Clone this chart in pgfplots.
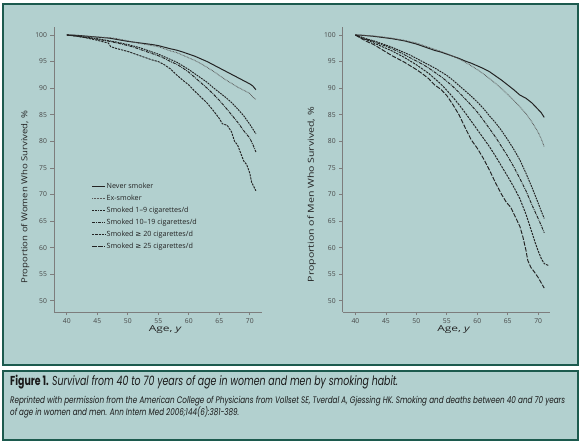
\documentclass[border=0pt]{standalone}
\usepackage{fontspec}
\setmainfont{Open Sans}
\newfontfamily\capfont{Poppins}
\newfontfamily\symfont{DejaVu Sans}
\usepackage{graphicx}
\usepackage{pgfplots}
\pgfplotsset{compat=1.18}
\definecolor{bgteal}{RGB}{178,208,207}
\definecolor{bordgreen}{RGB}{28,90,78}
\definecolor{axgray}{RGB}{125,125,125}
\definecolor{tickgray}{RGB}{70,70,70}
\definecolor{linedark}{RGB}{35,35,35}
\definecolor{exgray}{RGB}{90,90,90}
\tikzset{
  snever/.style={linedark, line width=1bp, solid},
  sex/.style={exgray, line width=0.85bp, dash pattern=on 0.7bp off 0.8bp},
  sone/.style={linedark, line width=0.95bp, dash pattern=on 1.8bp off 0.9bp},
  sten/.style={linedark, line width=0.95bp, dash pattern=on 3bp off 1bp on 0.8bp off 1bp},
  stwenty/.style={linedark, line width=0.95bp, dash pattern=on 2.2bp off 1bp},
  stwfive/.style={linedark, line width=0.95bp, dash pattern=on 4.5bp off 1.5bp},
}
\pgfplotsset{
  panel/.style={
    scale only axis, height=285bp,
    xmin=37.9, xmax=72, ymin=47.9, ymax=101.5,
    axis x line=bottom, axis y line=left,
    axis line style={axgray, line width=0.9bp, -},
    xtick={40,45,...,70}, ytick={50,55,...,100},
    tick align=outside, major tick length=3.5bp,
    tick style={axgray, line width=0.8bp},
    ticklabel style={font=\fontsize{6.8}{7}\selectfont, text=tickgray},
    /pgf/number format/assume math mode=true,
    label style={font=\fontsize{8.3}{9}\selectfont, text=linedark},
    xlabel={\resizebox{33bp}{\height}{Age, \textit{y}}},
    xlabel style={at={(axis description cs:0.535,-0.063)}, anchor=center},
  }
}
\begin{document}
\begin{tikzpicture}
\path[use as bounding box] (0bp,0bp) rectangle (582bp,445bp);
\fill[white] (0bp,0bp) rectangle (582bp,445bp);
\draw[bordgreen, line width=1.5bp, fill=bgteal] (3bp,80bp) rectangle (578bp,441bp);
\draw[bordgreen, line width=1.5bp, fill=bgteal] (3bp,5bp) rectangle (578bp,74bp);

\begin{axis}[panel, at={(54bp,133bp)}, anchor=south west, width=208bp,
  ylabel={\resizebox{173bp}{\height}{Proportion of Women Who Survived, \%}},
  ylabel style={at={(axis description cs:-0.139,0.403)}, anchor=center},
  legend style={at={(axis description cs:0.18,0.458)}, anchor=north west, draw=none, fill=none,
    font=\fontsize{7.2}{8}\selectfont, text=linedark, row sep=3.1bp, inner sep=0pt,
    nodes={inner sep=1pt}},
  legend cell align=left,
  legend image code/.code={\draw[#1] (0bp,0bp) -- (13bp,0bp);}]
\addplot[snever] coordinates {(40,100) (41,99.98) (42,99.9) (43,99.8) (44,99.7) (45,99.6) (46,99.5) (47,99.4) (48,99.2) (49,99.0) (50,98.8) (51,98.65) (52,98.5) (53,98.35) (54,98.2) (55,98.0) (56,97.7) (57,97.4) (58,97.15) (59,96.8) (60,96.4) (61,96.0) (62,95.5) (63,95.0) (64,94.4) (65,93.8) (66,93.2) (67,92.6) (68,92.0) (69,91.4) (70,90.8) (70.5,90.4) (71,89.7)};
\addlegendentry{Never smoker}
\addplot[sex] coordinates {(40,100) (42,99.85) (44,99.7) (46,99.55) (47,99.5) (48,99.35) (50,98.9) (52,98.4) (54,98.0) (55,97.8) (56,97.4) (57,97.0) (58,96.7) (59,96.2) (60,95.7) (61,95.2) (62,94.6) (63,93.9) (64,93.2) (65,92.4) (66,91.6) (67,90.9) (68,90.2) (69,89.6) (70,89.0) (70.5,88.3) (71,87.9)};
\addlegendentry{Ex-smoker}
\addplot[sone] coordinates {(40,100) (41,99.9) (42,99.75) (43,99.6) (44,99.45) (45,99.3) (46,99.1) (47,98.9) (48,98.7) (49,98.45) (50,98.2) (51,97.9) (52,97.6) (53,97.2) (54,96.8) (55,96.4) (56,95.9) (57,95.4) (58,94.9) (59,94.2) (60,93.5) (61,92.7) (62,91.9) (63,91.1) (64,90.1) (65,89.2) (66,88.3) (67,87.3) (68,86.1) (69,84.8) (70,83.2) (70.5,82.3) (71,81.4)};
\addlegendentry{Smoked 1–9 cigarettes/d}
\addplot[sten] coordinates {(40,100) (41,99.85) (42,99.7) (43,99.55) (44,99.4) (45,99.2) (46,99.0) (47,98.8) (48,98.55) (49,98.3) (50,98.0) (51,97.7) (52,97.3) (53,96.9) (54,96.5) (55,96.1) (56,95.6) (57,95.0) (58,94.5) (59,93.8) (60,93.0) (61,92.0) (62,91.0) (63,90.0) (64,88.9) (65,87.7) (66,86.4) (67,85.0) (68,83.6) (69,82.0) (70,80.6) (70.5,79.4) (71,78.0)};
\addlegendentry{Smoked 10–19 cigarettes/d}
\addplot[stwenty] coordinates {(40,100) (41,99.9) (42,99.7) (43,99.5) (44,99.25) (45,99.0) (46,98.7) (46.8,98.5) (47.2,97.8) (48,97.5) (49,97.2) (50,96.9) (51,96.5) (52,96.1) (53,95.7) (54,95.3) (55,95.0) (56,94.4) (57,93.6) (58,92.5) (59,91.5) (60,90.6) (61,89.4) (62,88.3) (63,87.2) (64,85.8) (65,84.3) (65.5,83.3) (66.3,83.0) (67,81.8) (67.5,80.0) (68,79.3) (68.5,77.8) (69,76.3) (69.5,75.6) (70,74.0) (70.3,72.3) (70.6,71.6) (71,70.7)};
\addlegendentry{Smoked {\symfont ≥} 20 cigarettes/d}
\addlegendimage{stwfive}
\addlegendentry{Smoked {\symfont ≥} 25 cigarettes/d}
\end{axis}

\begin{axis}[panel, at={(342.7bp,133bp)}, anchor=south west, width=207.6bp,
  ylabel={\resizebox{175bp}{\height}{Proportion of Men Who Survived, \%}},
  ylabel style={at={(axis description cs:-0.149,0.412)}, anchor=center}]
\addplot[snever] coordinates {(40,100) (41,99.95) (42,99.85) (43,99.75) (44,99.6) (45,99.45) (46,99.3) (47,99.1) (48,98.9) (49,98.6) (50,98.3) (51,97.9) (52,97.5) (53,97.1) (54,96.8) (55,96.4) (56,96.0) (57,95.6) (58,95.1) (59,94.7) (60,94.2) (61,93.7) (62,93.1) (63,92.3) (64,91.5) (65,90.6) (66,89.7) (67,88.7) (68,88.1) (69,87.2) (70,86.0) (70.5,85.4) (71,84.5)};
\addplot[sex] coordinates {(40,100) (42,99.9) (44,99.7) (45,99.55) (46,99.4) (48,99.0) (50,98.5) (52,97.7) (54,96.9) (55,96.5) (56,96.0) (57,95.5) (58,94.9) (59,94.2) (60,93.5) (61,92.7) (62,91.8) (63,90.9) (64,89.9) (65,88.8) (66,87.7) (67,86.5) (68,85.2) (69,83.6) (70,81.7) (70.5,80.5) (71,79.0)};
\addplot[sone] coordinates {(40,100) (41,99.6) (42,99.2) (43,98.9) (44,98.5) (45,98.1) (46,97.7) (47,97.2) (48,96.7) (49,96.2) (50,95.6) (51,95.0) (52,94.4) (53,93.8) (54,93.1) (55,92.4) (56,91.5) (57,90.5) (58,89.5) (59,88.5) (60,87.4) (61,86.2) (62,84.8) (63,83.5) (64,82.0) (65,80.3) (66,78.5) (67,76.5) (68,74.0) (69,71.3) (70,68.4) (70.5,66.9) (71,65.5)};
\addplot[sten] coordinates {(40,100) (41,99.5) (42,99.1) (43,98.8) (44,98.3) (45,97.9) (46,97.4) (47,96.9) (48,96.3) (49,95.7) (50,95.1) (51,94.5) (52,93.8) (53,93.0) (54,92.2) (55,91.3) (56,90.3) (57,89.2) (58,88.0) (59,86.8) (60,85.5) (61,84.0) (62,82.4) (63,80.8) (64,79.0) (65,77.2) (66,75.2) (67,73.0) (68,70.7) (69,68.0) (70,65.5) (70.5,64.2) (71,62.8)};
\addplot[stwenty] coordinates {(40,100) (41,99.4) (42,99.0) (43,98.5) (44,98.0) (45,97.5) (46,97.0) (47,96.4) (48,95.8) (49,95.1) (50,94.4) (51,93.6) (52,92.8) (53,91.8) (54,90.8) (55,89.6) (56,88.3) (57,86.9) (58,85.4) (59,83.8) (60,82.2) (61,80.6) (62,79.0) (63,77.2) (64,75.3) (65,73.4) (66,71.4) (67,69.2) (68,66.3) (69,62.8) (69.5,61.0) (70,59.4) (70.5,58.0) (71,57.0) (71.4,56.8) (71.8,56.6)};
\addplot[stwfive] coordinates {(40,100) (41,99.3) (42,98.7) (43,98.2) (44,97.5) (45,96.8) (46,96.1) (47,95.5) (48,94.9) (49,94.2) (50,93.5) (51,92.7) (52,91.8) (53,90.6) (54,89.8) (55,88.6) (56,86.9) (57,85.0) (58,82.6) (59,80.3) (60,78.7) (61,76.8) (62,74.6) (63,72.2) (64,70.0) (64.8,68.5) (65.5,67.6) (66,66.4) (67,64.0) (67.5,62.0) (68,59.5) (68.3,57.6) (68.8,56.3) (69.4,55.4) (70,54.4) (70.5,53.4) (71,52.4)};
\end{axis}

\node[anchor=base west, inner sep=0pt, text=black!90] at (10bp,59bp)
  {\resizebox{388bp}{\height}{\capfont\fontsize{13}{15}\selectfont\textbf{Figure 1.} \textit{Survival from 40 to 70 years of age in women and men by smoking habit.}}};
\node[anchor=base west, inner sep=0pt, text=black!90] at (10bp,41bp)
  {\resizebox{555bp}{\height}{\capfont\itshape\fontsize{9.5}{11}\selectfont Reprinted with permission from the American College of Physicians from Vollset SE, Tverdal A, Gjessing HK. Smoking and deaths between 40 and 70 years}};
\node[anchor=base west, inner sep=0pt, text=black!90] at (10bp,29bp)
  {\resizebox{229bp}{\height}{\capfont\itshape\fontsize{9.5}{11}\selectfont of age in women and men. Ann Intern Med 2006;144(6):381-389.}};
\end{tikzpicture}
\end{document}
